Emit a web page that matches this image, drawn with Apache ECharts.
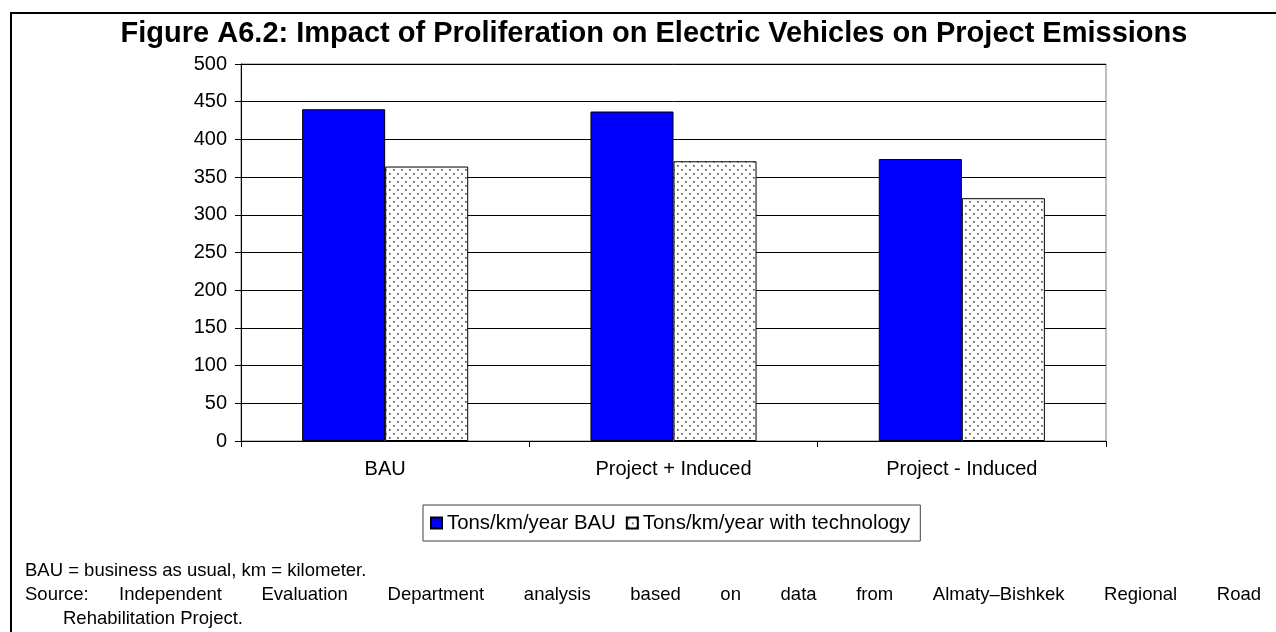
<!DOCTYPE html>
<html>
<head>
<meta charset="utf-8">
<title>Figure A6.2</title>
<script src="https://cdn.jsdelivr.net/npm/echarts@6/dist/echarts.min.js"></script>
<style>
  html, body { margin: 0; padding: 0; background: #fff; }
  #chart { width: 1276px; height: 632px; }
</style>
</head>
<body>
<div id="chart"></div>
<script>
// Emissions by scenario (tons per km per year)
const categories = ['BAU', 'Project + Induced', 'Project - Induced'];
const bauValues = [440, 437, 374];
const techValues = [364, 371, 322];
const seriesNames = ['Tons/km/year BAU', 'Tons/km/year with technology'];
const yTicks = [0, 50, 100, 150, 200, 250, 300, 350, 400, 450, 500];

const titleText = 'Figure A6.2: Impact of Proliferation on Electric Vehicles on Project Emissions';
const noteLine = 'BAU = business as usual, km = kilometer.';
const sourceLabel = 'Source:';
const sourceText = 'Independent Evaluation Department analysis based on data from Almaty–Bishkek Regional Road';
const sourceTail = 'Rehabilitation Project.';

const FONT = 'Arial, "Liberation Sans", sans-serif';

// dotted fill for the "with technology" bars
const tile = document.createElement('canvas');
tile.width = 8; tile.height = 8;
const tctx = tile.getContext('2d');
tctx.fillStyle = '#ffffff';
tctx.fillRect(0, 0, 8, 8);
tctx.fillStyle = '#9a9a9a';
tctx.fillRect(1, 1, 2, 2);
tctx.fillRect(5, 5, 2, 2);
tctx.fillStyle = '#4a4a4a';
tctx.fillRect(1, 1, 1, 1);
tctx.fillRect(5, 5, 1, 1);
const dotted = { image: tile, repeat: 'repeat' };

// justified source line: spread words between a start and end x
const noteSize = 18.5;
const measure = document.createElement('canvas').getContext('2d');
measure.font = noteSize + 'px ' + FONT;
const words = sourceText.split(' ');
const wordStart = 119, wordEnd = 1261;
const widths = words.map(w => measure.measureText(w).width);
const totalW = widths.reduce((a, b) => a + b, 0);
const gap = (wordEnd - wordStart - totalW) / (words.length - 1);
const noteStyle = { fontFamily: FONT, fontSize: noteSize, fill: '#000' };
const sourceWords = [];
let wx = wordStart;
words.forEach((w, i) => {
  sourceWords.push({ type: 'text', left: wx, top: 585, style: Object.assign({ text: w }, noteStyle) });
  wx += widths[i] + gap;
});

const chart = echarts.init(document.getElementById('chart'), null, { renderer: 'canvas' });

chart.setOption({
  animation: false,
  backgroundColor: '#ffffff',
  title: {
    text: titleText,
    left: 649,
    textAlign: 'center',
    top: 14,
    textStyle: { fontFamily: FONT, fontSize: 29, fontWeight: 'bold', color: '#000' }
  },
  grid: {
    left: 241, right: 170, top: 64, bottom: 191,
    show: true, borderColor: '#7f7f7f', borderWidth: 1, backgroundColor: 'transparent'
  },
  legend: {
    data: seriesNames,
    left: 423,
    top: 505,
    orient: 'horizontal',
    icon: 'rect',
    itemWidth: 11,
    itemHeight: 11,
    itemGap: 10,
    padding: [8, 10, 8, 7],
    borderColor: '#404040',
    borderWidth: 1,
    textStyle: { fontFamily: FONT, fontSize: 20.4, color: '#000' }
  },
  xAxis: {
    type: 'category',
    data: categories,
    boundaryGap: true,
    axisLine: { lineStyle: { color: '#000', width: 1 } },
    axisTick: { show: true, length: 6, lineStyle: { color: '#000' } },
    axisLabel: { fontFamily: FONT, fontSize: 20, color: '#000', margin: 18 }
  },
  yAxis: {
    type: 'value',
    min: yTicks[0],
    max: yTicks[yTicks.length - 1],
    interval: 50,
    axisLine: { show: true, lineStyle: { color: '#000', width: 1 } },
    axisTick: { show: true, length: 6, lineStyle: { color: '#000' } },
    axisLabel: { fontFamily: FONT, fontSize: 20, color: '#000', margin: 14 },
    splitLine: { show: true, lineStyle: { color: '#000', width: 1 } }
  },
  series: [
    {
      name: seriesNames[0],
      type: 'bar',
      data: bauValues,
      barGap: '0%',
      barCategoryGap: '42.4%',
      itemStyle: { color: '#0000ff', borderColor: '#000', borderWidth: 1 }
    },
    {
      name: seriesNames[1],
      type: 'bar',
      data: techValues,
      barGap: '0%',
      barCategoryGap: '42.4%',
      itemStyle: { color: dotted, borderColor: '#000', borderWidth: 1 }
    }
  ],
  graphic: [
    {
      type: 'rect',
      silent: true,
      shape: { x: 11, y: 13, width: 1400, height: 800 },
      style: { fill: 'none', stroke: '#000', lineWidth: 2 }
    },
    { type: 'text', left: 25, top: 561, style: Object.assign({ text: noteLine }, noteStyle) },
    { type: 'text', left: 25, top: 585, style: Object.assign({ text: sourceLabel }, noteStyle) },
    ...sourceWords,
    { type: 'text', left: 63, top: 609, style: Object.assign({ text: sourceTail }, noteStyle) }
  ]
});
</script>
</body>
</html>
